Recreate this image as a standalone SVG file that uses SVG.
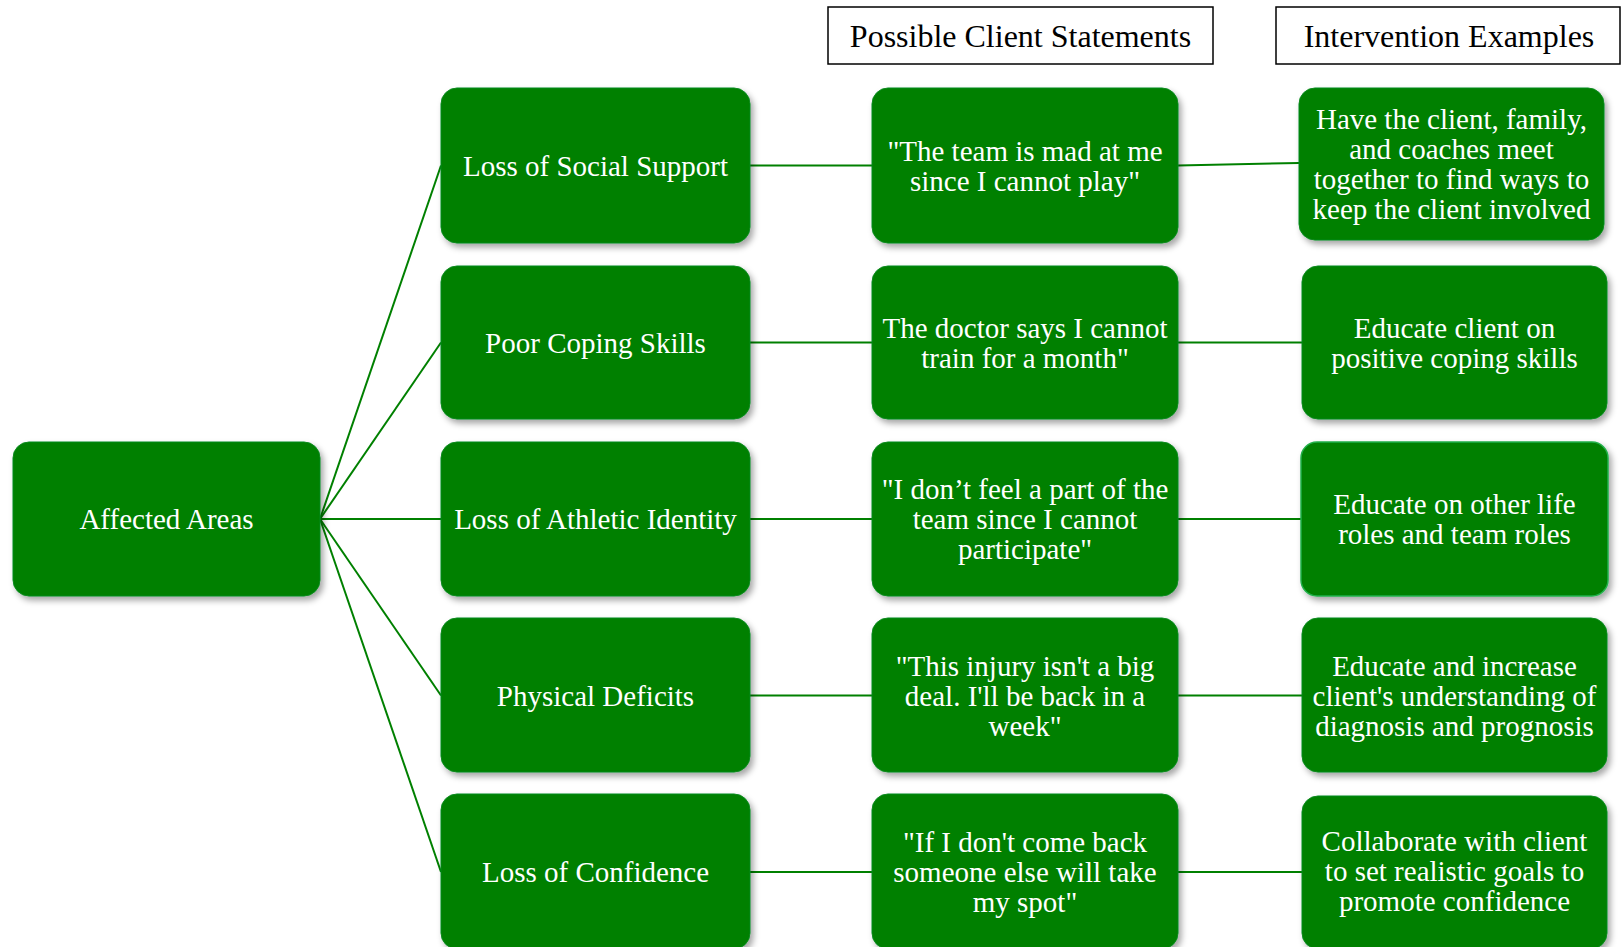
<svg xmlns="http://www.w3.org/2000/svg" width="1621" height="947" viewBox="0 0 1621 947">
  <defs>
    <filter id="shadow" x="-10%" y="-10%" width="125%" height="130%">
      <feDropShadow dx="3" dy="4" stdDeviation="3" flood-color="#000" flood-opacity="0.35"/>
    </filter>
  </defs>
  <style>
    .box { fill: #008000; stroke: #0a8a1e; stroke-width: 1; filter: url(#shadow); }
    .box.alt { stroke: #22b04a; stroke-width: 1.5; }
    .label { font-family: "Liberation Serif", "Times New Roman", serif; font-size: 29px; fill: #ffffff; text-anchor: middle; }
    .head { fill: #ffffff; stroke: #000000; stroke-width: 1.5; }
    .headtxt { font-family: "Liberation Serif", "Times New Roman", serif; font-size: 32px; fill: #000000; text-anchor: middle; }
    .link { stroke: #008000; stroke-width: 2; fill: none; }
  </style>

  <rect width="1621" height="947" fill="#ffffff"/>

  <!-- column headers -->
  <g id="header-statements">
    <rect class="head" x="828" y="7" width="385" height="57"/>
    <text class="headtxt" x="1020.5" y="47">Possible Client Statements</text>
  </g>
  <g id="header-interventions">
    <rect class="head" x="1276" y="7" width="344" height="57"/>
    <text class="headtxt" x="1449" y="47">Intervention Examples</text>
  </g>

  <!-- connectors -->
  <g id="connectors">
    <line class="link" x1="320" y1="519" x2="441" y2="165.5"/>
    <line class="link" x1="320" y1="519" x2="441" y2="342.5"/>
    <line class="link" x1="320" y1="519" x2="441" y2="519"/>
    <line class="link" x1="320" y1="519" x2="441" y2="695.5"/>
    <line class="link" x1="320" y1="519" x2="441" y2="872"/>

    <line class="link" x1="750" y1="165.5" x2="872" y2="165.5"/>
    <line class="link" x1="750" y1="342.5" x2="872" y2="342.5"/>
    <line class="link" x1="750" y1="519" x2="872" y2="519"/>
    <line class="link" x1="750" y1="695.5" x2="872" y2="695.5"/>
    <line class="link" x1="750" y1="872" x2="872" y2="872"/>

    <line class="link" x1="1178" y1="165.5" x2="1299" y2="163"/>
    <line class="link" x1="1178" y1="342.5" x2="1302" y2="342.5"/>
    <line class="link" x1="1178" y1="519" x2="1301" y2="519"/>
    <line class="link" x1="1178" y1="695.5" x2="1302" y2="695.5"/>
    <line class="link" x1="1178" y1="872" x2="1302" y2="872"/>
  </g>

  <!-- root -->
  <g id="affected-areas">
    <rect class="box" x="13" y="442" width="307" height="154" rx="16"/>
    <text class="label" x="166.5" y="529">Affected Areas</text>
  </g>

  <!-- affected areas -->
  <g id="social-support">
    <rect class="box" x="441" y="88" width="309" height="155" rx="16"/>
    <text class="label" x="595.5" y="175.5">Loss of Social Support</text>
  </g>
  <g id="coping-skills">
    <rect class="box" x="441" y="266" width="309" height="153" rx="16"/>
    <text class="label" x="595.5" y="352.5">Poor Coping Skills</text>
  </g>
  <g id="athletic-identity">
    <rect class="box" x="441" y="442" width="309" height="154" rx="16"/>
    <text class="label" x="595.5" y="529">Loss of Athletic Identity</text>
  </g>
  <g id="physical-deficits">
    <rect class="box" x="441" y="618" width="309" height="154" rx="16"/>
    <text class="label" x="595.5" y="705.5">Physical Deficits</text>
  </g>
  <g id="confidence">
    <rect class="box" x="441" y="794" width="309" height="155" rx="16"/>
    <text class="label" x="595.5" y="882">Loss of Confidence</text>
  </g>

  <!-- client statements -->
  <g id="statement-social">
    <rect class="box" x="872" y="88" width="306" height="155" rx="16"/>
    <text class="label" x="1025" y="160.5">"The team is mad at me</text>
    <text class="label" x="1025" y="190.5">since I cannot play"</text>
  </g>
  <g id="statement-coping">
    <rect class="box" x="872" y="266" width="306" height="153" rx="16"/>
    <text class="label" x="1025" y="337.5">The doctor says I cannot</text>
    <text class="label" x="1025" y="367.5">train for a month"</text>
  </g>
  <g id="statement-identity">
    <rect class="box" x="872" y="442" width="306" height="154" rx="16"/>
    <text class="label" x="1025" y="499">"I don’t feel a part of the</text>
    <text class="label" x="1025" y="529">team since I cannot</text>
    <text class="label" x="1025" y="559">participate"</text>
  </g>
  <g id="statement-physical">
    <rect class="box" x="872" y="618" width="306" height="154" rx="16"/>
    <text class="label" x="1025" y="675.5">"This injury isn't a big</text>
    <text class="label" x="1025" y="705.5">deal. I'll be back in a</text>
    <text class="label" x="1025" y="735.5">week"</text>
  </g>
  <g id="statement-confidence">
    <rect class="box" x="872" y="794" width="306" height="155" rx="16"/>
    <text class="label" x="1025" y="852">"If I don't come back</text>
    <text class="label" x="1025" y="882">someone else will take</text>
    <text class="label" x="1025" y="912">my spot"</text>
  </g>

  <!-- interventions -->
  <g id="intervention-social">
    <rect class="box" x="1299" y="88" width="305" height="152" rx="16"/>
    <text class="label" x="1451.5" y="129">Have the client, family,</text>
    <text class="label" x="1451.5" y="159">and coaches meet</text>
    <text class="label" x="1451.5" y="189">together to find ways to</text>
    <text class="label" x="1451.5" y="219">keep the client involved</text>
  </g>
  <g id="intervention-coping">
    <rect class="box" x="1302" y="266" width="305" height="153" rx="16"/>
    <text class="label" x="1454.5" y="337.5">Educate client on</text>
    <text class="label" x="1454.5" y="367.5">positive coping skills</text>
  </g>
  <g id="intervention-identity">
    <rect class="box alt" x="1301" y="442" width="307" height="154" rx="16"/>
    <text class="label" x="1454.5" y="514">Educate on other life</text>
    <text class="label" x="1454.5" y="544">roles and team roles</text>
  </g>
  <g id="intervention-physical">
    <rect class="box" x="1302" y="618" width="305" height="154" rx="16"/>
    <text class="label" x="1454.5" y="675.5">Educate and increase</text>
    <text class="label" x="1454.5" y="705.5">client's understanding of</text>
    <text class="label" x="1454.5" y="735.5">diagnosis and prognosis</text>
  </g>
  <g id="intervention-confidence">
    <rect class="box" x="1302" y="796" width="305" height="153" rx="16"/>
    <text class="label" x="1454.5" y="851">Collaborate with client</text>
    <text class="label" x="1454.5" y="881">to set realistic goals to</text>
    <text class="label" x="1454.5" y="911">promote confidence</text>
  </g>
</svg>
